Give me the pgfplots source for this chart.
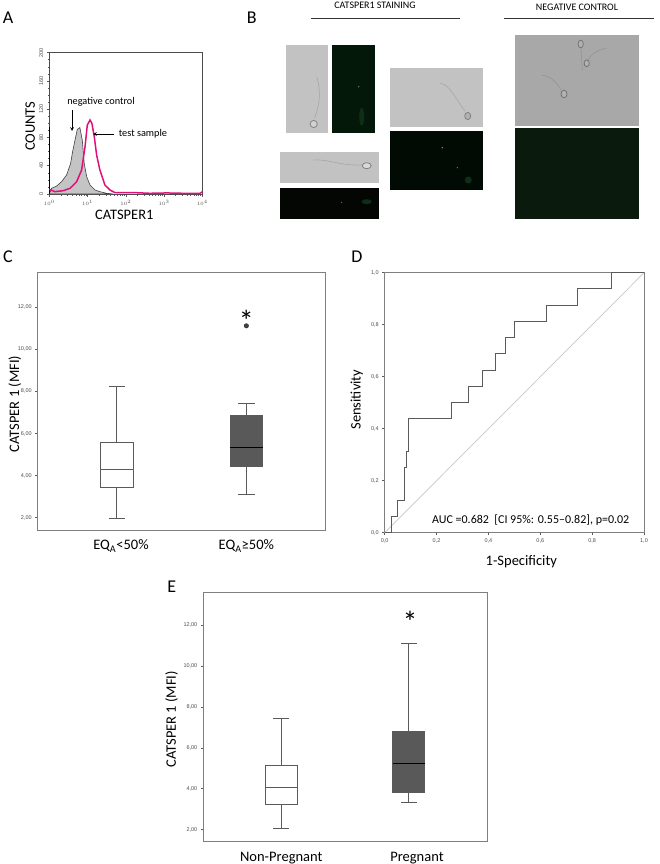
\documentclass[border=0pt]{standalone}
\usepackage{fontspec}
\setmainfont{Carlito}
\newfontfamily\tickf{Liberation Sans}
\usepackage{pgfplots}
\pgfplotsset{compat=1.18}
\usepgfplotslibrary{statistics}

\definecolor{framegray}{HTML}{7F7F7F}
\definecolor{linegray}{HTML}{5A5A5A}
\definecolor{boxdark}{HTML}{595959}
\definecolor{hotpink}{HTML}{E0107A}
\definecolor{negfill}{HTML}{C4C4C4}
\definecolor{darka}{HTML}{04180A}
\definecolor{darkb}{HTML}{020A04}
\definecolor{darkc}{HTML}{040604}
\definecolor{darkd}{HTML}{0A1A0C}
\definecolor{glow}{HTML}{0F2E16}
\definecolor{spot}{HTML}{7FA58A}

\newcommand{\lab}{\fontsize{14.5}{16}\selectfont}
\newcommand{\tinytick}{\fontsize{5.5}{6.5}\selectfont\tickf}

\pgfplotsset{
  common/.style={
    scale only axis,
    anchor=south west,
    tick align=outside,
    major tick length=2.5pt,
    tick style={draw=linegray,line width=0.6pt},
    axis line style={draw=framegray,line width=1pt},
    /pgf/number format/assume math mode=true,
    tick label style={font=\tinytick,text=black!70},
    /pgf/number format/use comma,
    label style={font=\lab},
    xtick pos=bottom, ytick pos=left,
  },
  spss/.style={
    common,
    ytick={2,4,6,8,10,12},
    yticklabel style={/pgf/number format/fixed,/pgf/number format/fixed zerofill,/pgf/number format/precision=2},
    xtick={0,1},
    x tick style={draw=none},
    xticklabel style={font=\lab,text=black,yshift=-4pt},
    boxplot/draw direction=y,
  },
  wbox/.style={draw=linegray,line width=1pt,fill=white,solid,
    boxplot/every median/.style={draw=linegray,line width=1pt}},
  dbox/.style={draw=linegray,line width=1pt,fill=boxdark,solid,
    boxplot/every median/.style={draw=black,line width=1.1pt}},
}

\begin{document}
\begin{tikzpicture}
\useasboundingbox (0,0) rectangle (660pt,-864pt);

% panel A, flow cytometry histogram
\begin{axis}[
  common, at={(49.3pt,-194pt)}, width=153pt, height=141.3pt,
  xmode=log, log basis x=10, xmin=1, xmax=10000,
  ymin=0, ymax=200, ytick={0,40,80,120,160,200}, minor y tick num=3,
  axis line style={draw=black!70,line width=0.9pt},
  yticklabel style={rotate=90,anchor=south,yshift=0pt},
  minor tick length=1.5pt,
  xlabel={CATSPER1}, ylabel={COUNTS},
  xlabel style={at={(axis description cs:0.49,-0.15)},anchor=center},
  ylabel style={at={(axis description cs:-0.125,0.48)},anchor=center,rotate=0},
  clip=false,
]
\addplot[draw=black!75,line width=0.6pt,fill=negfill] coordinates {
  (1,0)(1.15,8)(1.55,11.3)(2.1,17.5)(2.84,27)(3.6,43)(4.07,60)(4.69,76)(5.4,91.5)
  (6.3,94)(7.3,76)(8.2,43)(9.5,24.5)(11.6,12.7)(15.6,5.7)(21,3.3)(31.6,1)(47,0)} \closedcycle;
\addplot[draw=black,line width=1.1pt] coordinates {(1.03,0)(1.03,95)};
\addplot[draw=hotpink,line width=1.5pt] coordinates {
  (1,6.6)(1.4,3.3)(2.3,4.7)(3.47,8)(5.2,17.5)(7,34)(8.6,67)(9.85,97.6)(11.6,104.7)(13,100)
  (15,81)(17.3,55)(21,34)(28.5,12.7)(38.5,5.7)(52,2)(157,2)(428,1)(1167,1.5)(3180,1)(8700,1)(10000,3)};
\end{axis}

% panel C
\begin{axis}[
  spss, at={(37.7pt,-530pt)}, width=287.3pt, height=257.7pt,
  xmin=-0.613, xmax=1.608, ymin=1.415, ymax=13.65,
  xticklabels={\hspace*{8pt}EQ\textsubscript{A}<50\%,EQ\textsubscript{A}≥50\%},
  ylabel={CATSPER 1 (MFI)},
  ylabel style={at={(axis description cs:-0.08,0.489)},anchor=center},
  boxplot/box extend=0.2526, boxplot/whisker extend=0.126,
]
\addplot[wbox,boxplot prepared={draw position=0,lower whisker=1.97,lower quartile=3.44,median=4.31,upper quartile=5.56,upper whisker=8.25}] coordinates {};
\addplot[dbox,mark=*,mark size=2pt,mark options={draw=black!75,fill=black!75},boxplot prepared={draw position=1,lower whisker=3.08,lower quartile=4.42,median=5.34,upper quartile=6.86,upper whisker=7.44}] coordinates {(1,11.11)};
\node[font=\fontsize{30}{30}\selectfont] at (axis cs:1,11.33) {*};
\end{axis}

% panel D, ROC curve
\begin{axis}[
  common, at={(384.7pt,-532.7pt)}, width=259.3pt, height=260pt,
  xmin=0, xmax=1, ymin=0, ymax=1,
  xtick={0,0.2,0.4,0.6,0.8,1}, ytick={0,0.2,0.4,0.6,0.8,1},
  ticklabel style={/pgf/number format/fixed,/pgf/number format/fixed zerofill,/pgf/number format/precision=1},
  xlabel={1-Specificity}, ylabel={Sensitivity},
  xlabel style={at={(axis description cs:0.527,-0.113)},anchor=center},
  ylabel style={at={(axis description cs:-0.108,0.512)},anchor=center},
  clip=false,
]
\addplot[draw=black!22,line width=0.7pt] coordinates {(0,0)(1,1)};
\addplot[draw=linegray,line width=1pt] coordinates {
  (0,0)(0.0244,0)(0.0244,0.0625)(0.05,0.0625)(0.05,0.125)(0.0758,0.125)(0.0758,0.25)
  (0.0835,0.25)(0.0835,0.3125)(0.0925,0.3125)(0.0925,0.4375)(0.258,0.4375)(0.258,0.5)
  (0.325,0.5)(0.325,0.5625)(0.377,0.5625)(0.377,0.625)(0.427,0.625)(0.427,0.6875)
  (0.4666,0.6875)(0.4666,0.75)(0.5013,0.75)(0.5013,0.8125)(0.6247,0.8125)(0.6247,0.875)
  (0.7416,0.875)(0.7416,0.9375)(0.875,0.9375)(0.875,1)(1,1)};
\node[font=\fontsize{12}{14}\selectfont] at (axis cs:0.563,0.047) {AUC =0.682\ \ [CI 95\%: 0.55–0.82], p=0.02};
\end{axis}

% panel E
\begin{axis}[
  spss, at={(203.3pt,-841.7pt)}, width=284pt, height=249.7pt,
  xmin=-0.611, xmax=1.6136, ymin=1.414, ymax=13.61,
  xticklabels={Non-Pregnant,\hspace*{16pt}Pregnant},
  ylabel={CATSPER 1 (MFI)},
  ylabel style={at={(axis description cs:-0.112,0.49)},anchor=center},
  boxplot/box extend=0.2507, boxplot/whisker extend=0.1227,
]
\addplot[wbox,boxplot prepared={draw position=0,lower whisker=2.05,lower quartile=3.22,median=4.05,upper quartile=5.14,upper whisker=7.42}] coordinates {};
\addplot[dbox,boxplot prepared={draw position=1,lower whisker=3.34,lower quartile=3.82,median=5.22,upper quartile=6.79,upper whisker=11.11}] coordinates {};
\node[font=\fontsize{30}{30}\selectfont] at (axis cs:1.008,12.14) {*};
\end{axis}

% panel letters and panel A notes, y runs down in pixels here
\begin{scope}[x=1pt,y=-1pt]
\foreach \t/\px/\py in {A/8/18,B/251.7/17.3,C/8/257,D/357/257,E/171.7/586.7}
  \node[font=\fontsize{18}{20}\selectfont] at (\px,\py) {\t};
\node[font=\fontsize{10.3}{12}\selectfont] at (101,102) {negative control};
\node[font=\fontsize{10.3}{12}\selectfont] at (143,134) {test sample};
\draw[-stealth,line width=0.7pt] (72,110) -- (72,131);
\draw[-stealth,line width=0.7pt] (114,134) -- (93,134);

% panel B, micrographs
\node[font=\fontsize{10}{12}\selectfont] at (375,5.7) {CATSPER1 STAINING};
\node[font=\fontsize{10}{12}\selectfont] at (577,7.3) {NEGATIVE CONTROL};
\draw[line width=0.7pt,black!80] (310.7,18) -- (460,18) (504.3,18) -- (654.3,18);
\fill[black!24] (286,45.3) rectangle (328.3,132.7);
\fill[black!24] (390,68.3) rectangle (483,127);
\fill[black!24] (279.7,152) rectangle (379,183.3);
\fill[black!34] (515,35) rectangle (639,126);
\fill[darka] (332,45.3) rectangle (374.7,132.7);
\fill[darkb] (390,130.7) rectangle (483,189.7);
\fill[darkc] (279.7,187.7) rectangle (379,219.3);
\fill[darkd] (515,128) rectangle (639,219.3);
% cells
\draw[black!35,line width=0.6pt] (316.7,76.7) .. controls (321,90) and (320,105) .. (314.5,118);
\draw[black!50,fill=black!18,line width=0.8pt] (313.7,124) circle (3.6);
\draw[black!35,line width=0.6pt] (440,83.3) .. controls (450,84) and (456,100) .. (465,111);
\draw[black!50,fill=black!30,line width=0.8pt] (467.7,116) ellipse (3 and 3.6);
\draw[black!35,line width=0.6pt] (313.3,160) .. controls (330,159) and (340,166) .. (362,165);
\draw[black!50,fill=black!15,line width=0.8pt] (366.7,165.7) ellipse (4.5 and 3);
\draw[black!42,line width=0.6pt] (541.7,75) .. controls (552,77) and (556,82) .. (561,90);
\draw[black!55,fill=black!30,line width=0.8pt] (564,94) ellipse (3 and 3.8);
\draw[black!42,line width=0.6pt] (581,48) -- (582.3,70);
\draw[black!55,fill=black!30,line width=0.8pt] (580.7,44) ellipse (2.6 and 3.8);
\draw[black!42,line width=0.6pt] (588,60) .. controls (591,54) and (597,50) .. (606.7,48.3);
\draw[black!55,fill=black!30,line width=0.8pt] (586.7,63.3) ellipse (2.6 and 3.4);
% fluorescence spots
\fill[spot] (358.7,86.7) circle (0.6);
\fill[glow] (361.7,116.7) ellipse (2.5 and 9);
\fill[spot] (442.3,147.7) circle (0.7);
\fill[spot] (457.3,167.7) circle (0.6);
\fill[glow] (468.3,180) circle (3.5);
\fill[spot] (341.7,202.3) circle (0.5);
\fill[glow] (366.7,201.7) ellipse (5 and 2.5);
\end{scope}
\end{tikzpicture}
\end{document}
